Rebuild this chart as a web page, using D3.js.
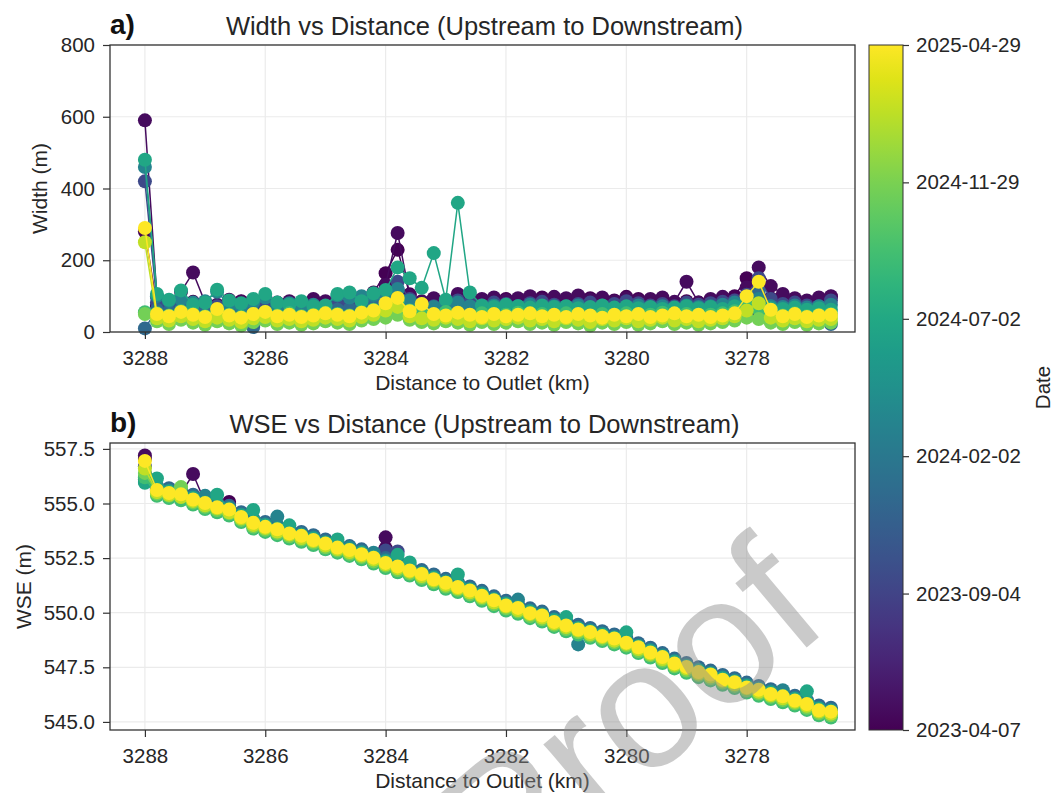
<!DOCTYPE html>
<html>
<head>
<meta charset="utf-8">
<script src="https://cdn.jsdelivr.net/npm/d3@7"></script>
<style>
  body { margin: 0; background: #fff; }
  svg { display: block; font-family: 'Liberation Sans', Arial, sans-serif; }
</style>
</head>
<body>
<svg id="chart" width="1061" height="793"></svg>
<script>
// node distances to outlet (km), upstream -> downstream
const nodeKm = [
  3288.0, 3287.8, 3287.6, 3287.4, 3287.2, 3287.0, 3286.8, 3286.6, 3286.4, 3286.2,
  3286.0, 3285.8, 3285.6, 3285.4, 3285.2, 3285.0, 3284.8, 3284.6, 3284.4, 3284.2,
  3284.0, 3283.8, 3283.6, 3283.4, 3283.2, 3283.0, 3282.8, 3282.6, 3282.4, 3282.2,
  3282.0, 3281.8, 3281.6, 3281.4, 3281.2, 3281.0, 3280.8, 3280.6, 3280.4, 3280.2,
  3280.0, 3279.8, 3279.6, 3279.4, 3279.2, 3279.0, 3278.8, 3278.6, 3278.4, 3278.2,
  3278.0, 3277.8, 3277.6, 3277.4, 3277.2, 3277.0, 3276.8, 3276.6
]

const surveyDates = ['2023-04-07', '2023-04-28', '2023-09-20', '2023-12-18', '2024-03-10',
  '2024-06-25', '2024-09-10', '2024-11-20', '2025-02-15', '2025-04-29']

// river width (m), one row per survey date
const widthSeries = [
  [280, 72, 66, 76, 84, 70, 68, 78, 86, 72,
    66, 74, 80, 70, 76, 82, 70, 74, 88, 110,
    164, 229, 105, 72, 78, 70, 96, 90, 82, 86,
    92, 80, 84, 96, 90, 82, 86, 94, 80, 88,
    98, 92, 84, 90, 78, 86, 82, 88, 92, 100,
    150, 56, 94, 82, 90, 78, 86, 98],
  [590, 98, 82, 112, 166, 82, 76, 90, 84, 78,
    94, 82, 86, 80, 92, 86, 78, 84, 90, 96,
    132, 276, 102, 86, 94, 82, 106, 100, 92, 96,
    88, 94, 100, 90, 98, 94, 102, 90, 96, 86,
    94, 88, 92, 96, 84, 140, 82, 92, 98, 90,
    124, 180, 128, 106, 94, 88, 96, 100],
  [420, 82, 62, 74, 72, 66, 72, 80, 74, 70,
    76, 72, 68, 74, 70, 72, 76, 78, 82, 88,
    98, 140, 92, 76, 72, 74, 88, 80, 74, 82,
    78, 72, 80, 84, 76, 72, 78, 82, 74, 78,
    86, 80, 74, 78, 72, 82, 76, 80, 84, 88,
    104, 150, 92, 78, 82, 74, 72, 88],
  [10, 62, 56, 64, 60, 56, 62, 54, 60, 14,
    56, 62, 60, 64, 56, 60, 62, 64, 72, 82,
    92, 118, 76, 66, 64, 62, 72, 70, 64, 68,
    62, 66, 60, 64, 68, 62, 66, 60, 64, 68,
    62, 66, 60, 64, 62, 68, 64, 60, 66, 72,
    82, 112, 72, 64, 60, 66, 62, 22],
  [460, 100, 86, 92, 82, 86, 112, 76, 72, 82,
    96, 74, 80, 72, 76, 72, 102, 96, 100, 103,
    95, 120, 88, 78, 70, 76, 82, 72, 66, 74,
    70, 72, 76, 66, 72, 70, 74, 68, 72, 66,
    70, 74, 68, 72, 66, 74, 70, 72, 76, 82,
    96, 92, 72, 70, 74, 68, 72, 76],
  [480, 106, 90, 116, 76, 82, 118, 88, 80, 92,
    106, 82, 76, 86, 72, 74, 106, 110, 86, 108,
    117, 180, 150, 123, 220, 90, 360, 110, 74, 70,
    76, 72, 68, 74, 70, 72, 66, 70, 74, 68,
    72, 66, 70, 64, 68, 72, 66, 70, 64, 72,
    86, 76, 66, 64, 68, 62, 66, 62],
  [55, 52, 46, 58, 50, 44, 54, 48, 42, 50,
    56, 46, 52, 44, 48, 54, 50, 46, 56, 62,
    70, 85, 60, 52, 48, 56, 50, 46, 52, 44,
    48, 54, 46, 50, 44, 52, 48, 42, 50, 46,
    52, 44, 48, 54, 46, 50, 44, 48, 52, 58,
    70, 62, 50, 46, 52, 44, 48, 50],
  [50, 30, 22, 34, 26, 20, 30, 24, 18, 28,
    32, 22, 26, 20, 24, 30, 26, 22, 32, 36,
    40, 48, 34, 28, 24, 30, 26, 20, 28, 22,
    26, 30, 22, 26, 20, 28, 24, 18, 26, 22,
    28, 20, 24, 30, 22, 26, 20, 24, 28, 32,
    40, 36, 26, 22, 28, 20, 24, 26],
  [250, 38, 32, 44, 36, 30, 40, 34, 28, 38,
    42, 32, 36, 30, 34, 40, 36, 32, 42, 48,
    60, 70, 44, 38, 34, 40, 36, 30, 38, 32,
    36, 40, 32, 36, 30, 38, 34, 28, 36, 32,
    38, 30, 34, 40, 32, 36, 30, 34, 38, 44,
    60, 80, 40, 32, 38, 30, 34, 36],
  [290, 50, 44, 56, 48, 42, 64, 46, 40, 50,
    56, 44, 48, 42, 46, 52, 48, 44, 54, 60,
    80, 95, 58, 78, 50, 46, 54, 48, 42, 50,
    44, 48, 52, 44, 48, 42, 50, 46, 40, 48,
    44, 50, 42, 46, 52, 44, 48, 42, 46, 52,
    100, 140, 62, 44, 50, 42, 46, 48]
]

// water surface elevation (m), one row per survey date
const wseSeries = [
  [557.05, 555.60, 555.50, 555.40, 555.20, 555.00, 554.85, 555.07, 554.40, 554.10,
    553.95, 553.80, 553.65, 553.50, 553.35, 553.15, 553.00, 552.85, 552.70, 552.50,
    552.95, 552.10, 551.95, 551.75, 551.55, 551.35, 551.20, 551.00, 550.80, 550.55,
    550.35, 550.20, 550.00, 549.85, 549.60, 549.40, 549.25, 549.10, 548.95, 548.80,
    548.65, 548.40, 548.20, 547.95, 547.70, 547.50, 547.30, 547.15, 546.95, 546.80,
    546.60, 546.45, 546.30, 546.15, 546.00, 545.80, 545.55, 545.45],
  [557.20, 555.65, 555.55, 555.45, 556.35, 555.05, 554.90, 554.75, 554.45, 554.15,
    554.00, 553.85, 553.70, 553.55, 553.40, 553.20, 553.05, 552.90, 552.75, 552.55,
    553.45, 552.15, 552.00, 551.80, 551.60, 551.40, 551.25, 551.05, 550.85, 550.60,
    550.40, 550.25, 550.05, 549.90, 549.65, 549.45, 549.30, 549.15, 549.00, 548.85,
    548.70, 548.45, 548.25, 548.00, 547.75, 547.55, 547.35, 547.20, 547.00, 546.85,
    546.65, 546.50, 546.35, 546.20, 546.05, 545.85, 545.60, 545.50],
  [556.70, 555.70, 555.60, 555.50, 555.30, 555.10, 554.95, 554.80, 554.50, 554.20,
    554.05, 553.90, 553.75, 553.60, 553.45, 553.25, 553.10, 552.95, 552.80, 552.60,
    552.85, 552.80, 552.05, 551.85, 551.65, 551.45, 551.30, 551.10, 550.90, 550.65,
    550.45, 550.30, 550.10, 549.95, 549.70, 549.50, 549.35, 549.20, 549.05, 548.90,
    548.75, 548.50, 548.30, 548.05, 547.80, 547.60, 547.40, 547.25, 547.05, 546.90,
    546.70, 546.55, 546.40, 546.25, 546.10, 545.90, 545.65, 545.55],
  [556.10, 555.80, 555.70, 555.60, 555.40, 555.20, 555.05, 554.90, 554.60, 554.30,
    554.15, 554.00, 553.85, 553.70, 553.55, 553.35, 553.20, 553.05, 552.90, 552.70,
    552.50, 552.30, 552.15, 551.95, 551.75, 551.55, 551.40, 551.20, 551.00, 550.75,
    550.55, 550.40, 550.20, 550.05, 549.80, 549.60, 549.45, 549.30, 549.15, 549.00,
    548.85, 548.60, 548.40, 548.15, 547.90, 547.70, 547.50, 547.35, 547.15, 547.00,
    546.80, 546.65, 546.50, 546.35, 546.20, 546.00, 545.75, 545.65],
  [556.00, 555.75, 555.60, 555.50, 555.30, 555.35, 554.95, 554.80, 554.50, 554.20,
    554.05, 554.40, 553.75, 553.60, 553.45, 553.25, 553.10, 553.00, 552.80, 552.75,
    552.40, 552.20, 552.05, 551.85, 551.65, 551.45, 551.30, 551.10, 550.90, 550.65,
    550.45, 550.60, 550.10, 549.95, 549.70, 549.50, 548.55, 549.20, 549.05, 548.90,
    548.75, 548.50, 548.30, 548.05, 547.80, 547.60, 547.40, 547.25, 547.05, 546.90,
    546.70, 546.55, 546.40, 546.45, 546.10, 545.90, 545.65, 545.55],
  [555.95, 556.15, 555.55, 555.45, 555.25, 555.05, 555.40, 554.75, 554.45, 554.70,
    554.00, 553.85, 554.00, 553.55, 553.40, 553.20, 553.35, 552.90, 552.75, 552.55,
    552.35, 552.65, 552.30, 551.80, 551.60, 551.40, 551.75, 551.05, 550.85, 550.60,
    550.40, 550.25, 550.05, 549.90, 549.65, 549.80, 549.30, 549.15, 549.00, 548.85,
    549.10, 548.45, 548.25, 548.00, 547.75, 547.55, 547.35, 547.20, 547.00, 546.85,
    546.65, 546.50, 546.35, 546.20, 546.05, 546.40, 545.60, 545.50],
  [556.20, 555.35, 555.25, 555.15, 554.95, 554.75, 554.60, 554.45, 554.15, 553.85,
    553.70, 553.55, 553.40, 553.25, 553.10, 552.90, 552.75, 552.60, 552.45, 552.25,
    552.05, 551.85, 551.70, 551.50, 551.30, 551.10, 550.95, 550.75, 550.55, 550.30,
    550.10, 549.95, 549.75, 549.60, 549.35, 549.15, 549.00, 548.85, 548.70, 548.55,
    548.40, 548.15, 547.95, 547.70, 547.45, 547.25, 547.05, 546.90, 546.70, 546.55,
    546.35, 546.20, 546.05, 545.90, 545.75, 545.55, 545.30, 545.20],
  [556.40, 555.45, 555.35, 555.75, 555.05, 554.85, 554.70, 554.55, 554.25, 553.95,
    553.80, 553.65, 553.50, 553.35, 553.20, 553.00, 552.85, 552.70, 552.55, 552.35,
    552.15, 551.95, 551.80, 551.60, 551.40, 551.20, 551.05, 550.85, 550.65, 550.40,
    550.20, 550.05, 549.85, 549.70, 549.45, 549.25, 549.10, 548.95, 548.80, 548.65,
    548.50, 548.25, 548.05, 547.80, 547.55, 547.35, 547.15, 547.00, 546.80, 546.65,
    546.45, 546.30, 546.15, 546.00, 545.85, 545.65, 545.40, 545.30],
  [556.60, 555.52, 555.40, 555.30, 555.12, 554.92, 554.78, 554.60, 554.32, 554.02,
    553.88, 553.72, 553.58, 553.42, 553.28, 553.08, 552.92, 552.78, 552.62, 552.44,
    552.22, 552.04, 551.88, 551.68, 551.48, 551.28, 551.12, 550.94, 550.72, 550.48,
    550.28, 550.12, 549.94, 549.78, 549.52, 549.34, 549.18, 549.02, 548.88, 548.72,
    548.58, 548.34, 548.12, 547.88, 547.62, 547.44, 547.22, 547.08, 546.88, 546.72,
    546.54, 546.38, 546.22, 546.08, 545.92, 545.74, 545.48, 545.38],
  [556.95, 555.62, 555.48, 555.42, 555.18, 555.02, 554.83, 554.72, 554.38, 554.12,
    553.93, 553.82, 553.63, 553.52, 553.33, 553.17, 552.98, 552.87, 552.68, 552.52,
    552.28, 552.12, 551.93, 551.77, 551.53, 551.37, 551.18, 551.02, 550.78, 550.57,
    550.33, 550.22, 549.98, 549.87, 549.58, 549.42, 549.23, 549.12, 548.93, 548.82,
    548.63, 548.42, 548.18, 547.97, 547.68, 547.52, 547.28, 547.17, 546.93, 546.82,
    546.58, 546.47, 546.28, 546.17, 545.98, 545.82, 545.53, 545.47]
]

const kmTicks = [3288, 3286, 3284, 3282, 3280, 3278]
const widthTicks = [0, 200, 400, 600, 800]
const wseTicks = [545, 547.5, 550, 552.5, 555, 557.5]
const colorbarTicks = ['2023-04-07', '2023-09-04', '2024-02-02', '2024-07-02', '2024-11-29', '2025-04-29']

const parseDate = d3.timeParse('%Y-%m-%d')
const svg = d3.select('#chart')

const plotLeft = 110
const plotRight = 855
const x = d3.scaleLinear().domain([3288.58, 3276.2]).range([plotLeft, plotRight])

const dateExtent = [parseDate(colorbarTicks[0]), parseDate(colorbarTicks[colorbarTicks.length - 1])]
const color = d3.scaleSequential(d3.interpolateViridis).domain(dateExtent)

const styleAxis = sel => {
  sel.select('.domain').remove()
  sel.attr('font-size', null).attr('font-family', null)
  sel.selectAll('.tick line').attr('stroke', '#333').attr('stroke-width', 1.2)
  sel.selectAll('.tick text').attr('fill', '#262626').style('font-size', '20.5px')
}

const panels = [
  { label: 'a)', title: 'Width vs Distance (Upstream to Downstream)', yTitle: 'Width (m)', yTitleX: 47,
    top: 45, bottom: 332, yDomain: [0, 800], yTicks: widthTicks, yFormat: d3.format('d'), values: widthSeries },
  { label: 'b)', title: 'WSE vs Distance (Upstream to Downstream)', yTitle: 'WSE (m)', yTitleX: 31,
    top: 443, bottom: 730, yDomain: [544.63, 557.77], yTicks: wseTicks, yFormat: d3.format('.1f'), values: wseSeries }
]

panels.forEach(p => {
  const y = d3.scaleLinear().domain(p.yDomain).range([p.bottom, p.top])
  const g = svg.append('g')

  // grid
  g.append('g').selectAll('line').data(kmTicks).join('line')
    .attr('x1', d => x(d)).attr('x2', d => x(d))
    .attr('y1', p.top).attr('y2', p.bottom)
    .attr('stroke', '#ebebeb').attr('stroke-width', 1.2)
  g.append('g').selectAll('line').data(p.yTicks).join('line')
    .attr('x1', plotLeft).attr('x2', plotRight)
    .attr('y1', d => y(d)).attr('y2', d => y(d))
    .attr('stroke', '#ebebeb').attr('stroke-width', 1.2)

  // one line + markers per survey date, oldest first
  const line = d3.line().x((d, i) => x(nodeKm[i])).y(d => y(d))
  p.values.forEach((vals, k) => {
    const c = color(parseDate(surveyDates[k]))
    const s = g.append('g')
    s.append('path').datum(vals)
      .attr('d', line)
      .attr('fill', 'none')
      .attr('stroke', c)
      .attr('stroke-width', 1.5)
    s.selectAll('circle').data(vals).join('circle')
      .attr('cx', (d, i) => x(nodeKm[i]))
      .attr('cy', d => y(d))
      .attr('r', 7)
      .attr('fill', c)
  })

  // frame
  g.append('rect')
    .attr('x', plotLeft).attr('y', p.top)
    .attr('width', plotRight - plotLeft).attr('height', p.bottom - p.top)
    .attr('fill', 'none').attr('stroke', '#333').attr('stroke-width', 1.3)

  g.append('g')
    .attr('transform', `translate(0,${p.bottom})`)
    .call(d3.axisBottom(x).tickValues(kmTicks).tickFormat(d3.format('d')).tickSize(7).tickPadding(11))
    .call(styleAxis)

  g.append('g')
    .attr('transform', `translate(${plotLeft},0)`)
    .call(d3.axisLeft(y).tickValues(p.yTicks).tickFormat(p.yFormat).tickSize(7).tickPadding(8))
    .call(styleAxis)

  const midX = (plotLeft + plotRight) / 2
  g.append('text')
    .attr('x', midX).attr('y', p.bottom + 58)
    .attr('text-anchor', 'middle')
    .attr('fill', '#262626')
    .style('font-size', '21px')
    .text('Distance to Outlet (km)')

  g.append('text')
    .attr('transform', `translate(${p.yTitleX},${(p.top + p.bottom) / 2}) rotate(-90)`)
    .attr('text-anchor', 'middle')
    .attr('fill', '#262626')
    .style('font-size', '21px')
    .text(p.yTitle)

  g.append('text')
    .attr('x', midX + 2).attr('y', p.top - 10)
    .attr('text-anchor', 'middle')
    .attr('fill', '#262626')
    .style('font-size', '25.5px')
    .text(p.title)

  g.append('text')
    .attr('x', plotLeft).attr('y', p.top - 11)
    .attr('fill', '#111')
    .style('font-size', '28px')
    .style('font-weight', 'bold')
    .text(p.label)
})

// colorbar
const cbX = 869
const cbW = 34
const cbTop = 45
const cbBottom = 730
const grad = svg.append('defs').append('linearGradient')
  .attr('id', 'viridis')
  .attr('x1', 0).attr('y1', 1).attr('x2', 0).attr('y2', 0)
grad.selectAll('stop').data(d3.range(0, 1.0001, 0.05)).join('stop')
  .attr('offset', d => d)
  .attr('stop-color', d => d3.interpolateViridis(d))

svg.append('rect')
  .attr('x', cbX).attr('y', cbTop)
  .attr('width', cbW).attr('height', cbBottom - cbTop)
  .attr('fill', 'url(#viridis)')
  .attr('stroke', '#333').attr('stroke-width', 1)

const cbScale = d3.scaleTime().domain(dateExtent).range([cbBottom, cbTop])
svg.append('g')
  .attr('transform', `translate(${cbX + cbW},0)`)
  .call(d3.axisRight(cbScale)
    .tickValues(colorbarTicks.map(parseDate))
    .tickFormat(d3.timeFormat('%Y-%m-%d'))
    .tickSize(6).tickPadding(7))
  .call(styleAxis)

svg.append('text')
  .attr('transform', `translate(1050,${(cbTop + cbBottom) / 2}) rotate(-90)`)
  .attr('text-anchor', 'middle')
  .attr('fill', '#262626')
  .style('font-size', '20.5px')
  .text('Date')

// watermark
svg.append('text')
  .attr('transform', 'translate(668,764) rotate(-40)')
  .attr('text-anchor', 'middle')
  .attr('fill', '#8c8c8c')
  .attr('opacity', 0.45)
  .style('font-size', '180px')
  .text('Proof')
</script>
</body>
</html>
